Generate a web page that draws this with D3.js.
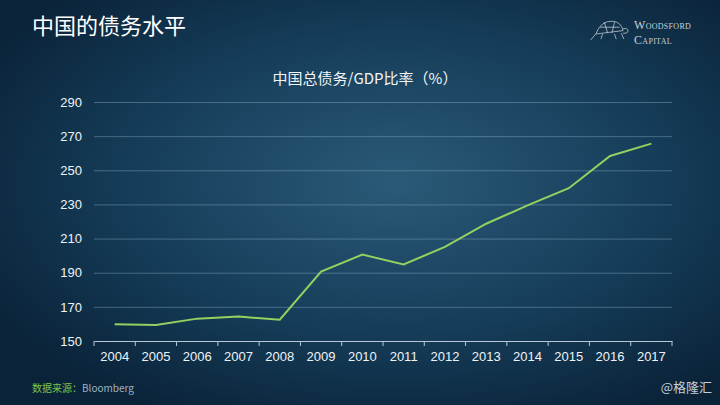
<!DOCTYPE html>
<html lang="zh-CN">
<head>
<meta charset="UTF-8">
<title>中国的债务水平</title>
<script src="https://d3js.org/d3.v7.min.js"></script>
<style>
  body { margin: 0; background: #0b2640; }
  svg { display: block; font-family: "Noto Sans CJK SC", "Noto Sans", sans-serif; }
  .grid line { stroke: #8fb0c8; stroke-opacity: 0.42; stroke-width: 1px; }
  .grid path { display: none; }
  .axis text { fill: #eef3f7; font-size: 13px; }
  .axis path, .axis line { stroke: #b8c8d6; }
  .line { fill: none; stroke: #93d160; stroke-width: 2px; }
</style>
</head>
<body>
<script>

// data
var years = ["2004","2005","2006","2007","2008","2009","2010","2011","2012","2013","2014","2015","2016","2017"];
var debtRatio = [159.8, 159.4, 163.1, 164.3, 162.5, 190.6, 200.6, 194.9, 205.1, 218.7, 229.4, 239.5, 258.4, 265.6];
var yTicks = [150, 170, 190, 210, 230, 250, 270, 290];

var W = 720, H = 405;
var margin = {top: 102, right: 48, bottom: 64, left: 94},
    width = W - margin.left - margin.right,
    height = H - margin.top - margin.bottom;

var svg = d3.select("body").append("svg")
    .attr("width", W)
    .attr("height", H);

// background radial gradient
var defs = svg.append("defs");
var grad = defs.append("radialGradient")
    .attr("id", "bg")
    .attr("cx", "55%").attr("cy", "45%").attr("r", "65%");
grad.append("stop").attr("offset", "0%").attr("stop-color", "#2a5a78");
grad.append("stop").attr("offset", "55%").attr("stop-color", "#163e5a");
grad.append("stop").attr("offset", "100%").attr("stop-color", "#0a2339");

svg.append("rect")
    .attr("width", W).attr("height", H)
    .attr("fill", "url(#bg)");

// page title
svg.append("text")
    .attr("x", 32).attr("y", 34)
    .attr("fill", "#ffffff")
    .style("font-size", "22px")
    .text("中国的债务水平");

// logo (turtle + name)
var logo = svg.append("g")
    .attr("transform", "translate(589,17) scale(0.85)")
    .attr("fill", "none").attr("stroke", "#c4ccd4").attr("stroke-width", 0.9);
logo.append("path").attr("d", "M8,20 Q14,4 28,5 Q38,6 40,16 Z");
logo.append("path").attr("d", "M13,12 L36,12 M18,6 L22,19 M30,6 L27,19");
logo.append("path").attr("d", "M40,14 Q46,12 46,17 Q44,20 40,19");
logo.append("path").attr("d", "M8,20 L2,27 M16,20 L14,26 M30,20 L32,26 M38,19 L41,26");
svg.append("text")
    .attr("x", 634).attr("y", 29)
    .attr("fill", "#c9d1d8")
    .style("font-family", "'Liberation Serif', serif")
    .style("font-size", "12px")
    .style("font-variant", "small-caps")
    .style("letter-spacing", "0.3px")
    .text("Woodsford");
svg.append("text")
    .attr("x", 634).attr("y", 44)
    .attr("fill", "#c9d1d8")
    .style("font-family", "'Liberation Serif', serif")
    .style("font-size", "12px")
    .style("font-variant", "small-caps")
    .style("letter-spacing", "0.3px")
    .text("Capital");

// chart title
svg.append("text")
    .attr("x", 365).attr("y", 84)
    .attr("text-anchor", "middle")
    .attr("fill", "#f2f5f8")
    .style("font-size", "15px")
    .text("中国总债务/GDP比率（%）");

var g = svg.append("g")
    .attr("transform", "translate(" + margin.left + "," + margin.top + ")");

var x = d3.scaleBand()
    .domain(years)
    .range([0, width]);

var y = d3.scaleLinear()
    .domain([150, 290])
    .range([height, 0]);

// horizontal gridlines
g.append("g")
    .attr("class", "grid")
    .call(d3.axisLeft(y).tickValues(yTicks.slice(1)).tickSize(-width).tickFormat(""));

// y axis labels
var yAxis = g.append("g")
    .attr("class", "axis")
    .call(d3.axisLeft(y).tickValues(yTicks).tickSize(0).tickPadding(12));
yAxis.select(".domain").remove();

// x axis with ticks on band edges
var xAxis = g.append("g")
    .attr("class", "axis")
    .attr("transform", "translate(0," + height + ")")
    .call(d3.axisBottom(x).tickSize(0).tickPadding(11));
xAxis.selectAll(".tick").attr("transform", function(d) {
    return "translate(" + (x(d) + x.bandwidth() / 2) + ",0)";
});
xAxis.selectAll(".edge")
    .data(years.concat(["end"]))
    .enter().append("line")
    .attr("class", "edge")
    .attr("x1", function(d, i) { return i * x.bandwidth(); })
    .attr("x2", function(d, i) { return i * x.bandwidth(); })
    .attr("y1", 0).attr("y2", 5);

// the series
var line = d3.line()
    .x(function(d, i) { return x(years[i]) + x.bandwidth() / 2; })
    .y(function(d) { return y(d); });

g.append("path")
    .datum(debtRatio)
    .attr("class", "line")
    .attr("d", line);

// footnotes
var src = svg.append("text")
    .attr("x", 32).attr("y", 392)
    .style("font-size", "10px");
src.append("tspan").attr("fill", "#7fc24a").text("数据来源：");
src.append("tspan").attr("fill", "#9fb3c3").text("Bloomberg");

svg.append("text")
    .attr("x", 712).attr("y", 392)
    .attr("text-anchor", "end")
    .attr("fill", "#c6ced6")
    .style("font-size", "13px")
    .text("@格隆汇");

</script>
</body>
</html>
